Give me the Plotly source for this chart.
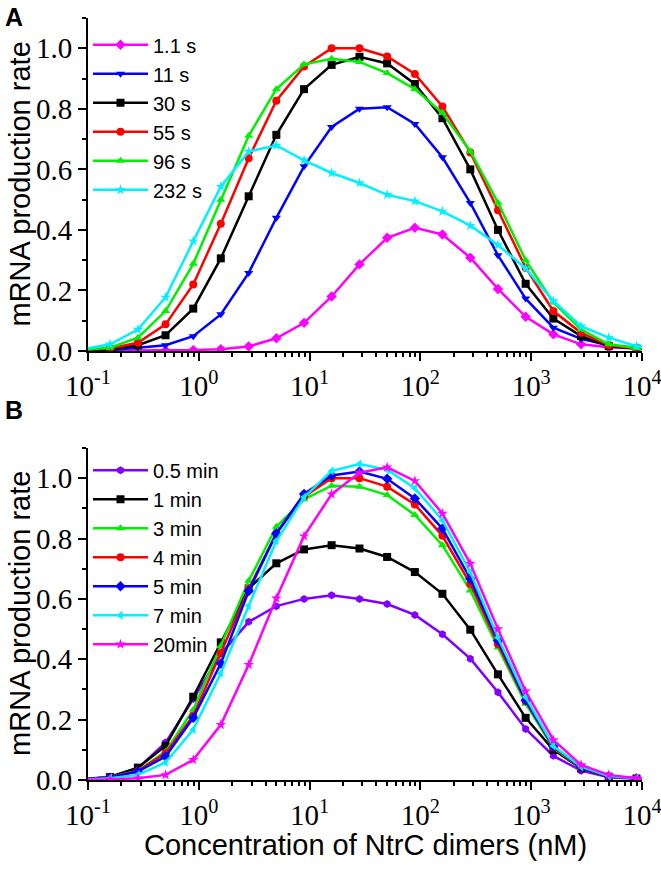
import plotly.graph_objects as go

# ---------------- data ----------------
conc = [0.089, 0.158, 0.282, 0.501, 0.891, 1.58, 2.82, 5.01, 8.91, 15.8, 28.2,
        50.1, 89.1, 158, 282, 501, 891, 1585, 2818, 5012, 8913, 15849]

# Panel A
labels_A = ["1.1 s", "11 s", "30 s", "55 s", "96 s", "232 s"]
rate_A_1p1s = [0.001, 0.001, 0.001, 0.002, 0.003, 0.006, 0.015, 0.042, 0.093, 0.180, 0.286,
               0.374, 0.407, 0.385, 0.308, 0.205, 0.113, 0.055, 0.022, 0.012, 0.008, 0.004]
rate_A_11s = [0.001, 0.003, 0.011, 0.019, 0.049, 0.121, 0.258, 0.440, 0.610, 0.740, 0.800,
              0.805, 0.750, 0.640, 0.489, 0.316, 0.173, 0.077, 0.040, 0.019, 0.011, 0.006]
rate_A_30s = [0.002, 0.005, 0.019, 0.052, 0.140, 0.306, 0.511, 0.714, 0.865, 0.945, 0.972,
              0.950, 0.882, 0.769, 0.600, 0.400, 0.222, 0.107, 0.049, 0.016, 0.008, 0.004]
rate_A_55s = [0.003, 0.008, 0.027, 0.088, 0.220, 0.420, 0.637, 0.827, 0.940, 1.000, 1.000,
              0.973, 0.915, 0.808, 0.656, 0.465, 0.275, 0.132, 0.060, 0.019, 0.009, 0.004]
rate_A_96s = [0.004, 0.011, 0.044, 0.132, 0.288, 0.500, 0.711, 0.865, 0.947, 0.965, 0.955,
              0.918, 0.865, 0.786, 0.660, 0.490, 0.300, 0.160, 0.071, 0.022, 0.010, 0.005]
rate_A_232s = [0.006, 0.022, 0.071, 0.177, 0.363, 0.543, 0.659, 0.679, 0.630, 0.588, 0.555,
               0.516, 0.495, 0.461, 0.414, 0.350, 0.273, 0.165, 0.082, 0.044, 0.016, 0.008]

# Panel B
labels_B = ["0.5 min", "1 min", "3 min", "4 min", "5 min", "7 min", "20min"]
rate_B_0p5min = [0.002, 0.011, 0.039, 0.124, 0.268, 0.418, 0.524, 0.576, 0.600, 0.612, 0.600,
                 0.583, 0.547, 0.483, 0.402, 0.291, 0.169, 0.080, 0.031, 0.009, 0.004, 0.002]
rate_B_1min = [0.002, 0.010, 0.041, 0.113, 0.276, 0.456, 0.635, 0.718, 0.764, 0.778, 0.767,
               0.739, 0.689, 0.617, 0.498, 0.350, 0.206, 0.100, 0.039, 0.011, 0.005, 0.002]
rate_B_3min = [0.002, 0.009, 0.031, 0.094, 0.233, 0.444, 0.660, 0.839, 0.930, 0.975, 0.972,
               0.944, 0.878, 0.778, 0.628, 0.439, 0.253, 0.106, 0.041, 0.012, 0.005, 0.002]
rate_B_4min = [0.002, 0.009, 0.030, 0.089, 0.213, 0.420, 0.633, 0.817, 0.939, 1.000, 1.000,
               0.972, 0.913, 0.809, 0.650, 0.450, 0.262, 0.108, 0.041, 0.012, 0.005, 0.002]
rate_B_5min = [0.002, 0.008, 0.028, 0.078, 0.206, 0.386, 0.626, 0.817, 0.948, 1.009, 1.022,
               0.998, 0.933, 0.833, 0.667, 0.461, 0.264, 0.111, 0.042, 0.012, 0.005, 0.002]
rate_B_7min = [0.001, 0.006, 0.017, 0.058, 0.167, 0.354, 0.577, 0.792, 0.937, 1.024, 1.047,
               1.028, 0.967, 0.861, 0.689, 0.472, 0.275, 0.113, 0.044, 0.013, 0.006, 0.002]
rate_B_20min = [0.0005, 0.002, 0.006, 0.017, 0.067, 0.183, 0.382, 0.602, 0.808, 0.947, 1.018,
                1.036, 0.991, 0.883, 0.717, 0.500, 0.294, 0.133, 0.050, 0.017, 0.006, 0.002]

x_tickvals = [0.1, 1, 10, 100, 1000, 10000]
x_ticktext = ["10<sup>-1</sup>", "10<sup>0</sup>", "10<sup>1</sup>", "10<sup>2</sup>",
              "10<sup>3</sup>", "10<sup>4</sup>"]
y_title = "mRNA production rate"
x_title = "Concentration of NtrC dimers (nM)"

# ---------------- styles ----------------
series_A = [
    (labels_A[0], rate_A_1p1s, "#FF00FF", "diamond"),
    (labels_A[1], rate_A_11s, "#0000FF", "triangle-down"),
    (labels_A[2], rate_A_30s, "#000000", "square"),
    (labels_A[3], rate_A_55s, "#FF0000", "circle"),
    (labels_A[4], rate_A_96s, "#00F000", "triangle-up"),
    (labels_A[5], rate_A_232s, "#00F0FF", "star"),
]
series_B = [
    (labels_B[0], rate_B_0p5min, "#8000FF", "hexagon"),
    (labels_B[1], rate_B_1min, "#000000", "square"),
    (labels_B[2], rate_B_3min, "#00F000", "triangle-up"),
    (labels_B[3], rate_B_4min, "#FF0000", "circle"),
    (labels_B[4], rate_B_5min, "#0000FF", "diamond"),
    (labels_B[5], rate_B_7min, "#00F0FF", "triangle-left"),
    (labels_B[6], rate_B_20min, "#FF00FF", "star"),
]

fig = go.Figure()
for name, vals, col, sym in series_A:
    fig.add_trace(go.Scatter(x=conc, y=vals, name=name, mode="lines+markers",
                             line=dict(color=col, width=2.5),
                             marker=dict(symbol=sym, size=8, color=col),
                             xaxis="x", yaxis="y", legend="legend"))
for name, vals, col, sym in series_B:
    fig.add_trace(go.Scatter(x=conc, y=vals, name=name, mode="lines+markers",
                             line=dict(color=col, width=2.5),
                             marker=dict(symbol=sym, size=8, color=col),
                             xaxis="x2", yaxis="y2", legend="legend2"))

minor_x = [k * 10 ** n for n in range(-1, 4) for k in range(2, 10)]
tickfont = dict(family="Liberation Serif", size=29, color="black")

def xax(anchor, top=False, overlay=None):
    d = dict(type="log", range=[-1, 4], showgrid=False, zeroline=False, automargin=False,
             showline=True, linewidth=2, linecolor="black",
             tickvals=x_tickvals, ticktext=x_ticktext, ticklabeloverflow="allow",
             ticks="inside" if top else "outside", ticklen=8, tickwidth=2, tickcolor="black",
             minor=dict(tickvals=minor_x, ticklen=4, tickwidth=2, tickcolor="black",
                        ticks="inside" if top else "outside"),
             tickfont=tickfont, anchor=anchor, showticklabels=not top)
    if top:
        d.update(side="top", overlaying=overlay)
    return d

def yax(anchor, domain=None, right=False, overlay=None):
    d = dict(range=[0, 1.1], showgrid=False, zeroline=False, automargin=False,
             showline=True, linewidth=2, linecolor="black",
             tick0=0, dtick=0.2, tickformat=".1f",
             ticks="inside" if right else "outside", ticklen=8, tickwidth=2, tickcolor="black",
             minor=dict(dtick=0.1, tick0=0, ticklen=4, tickwidth=2, tickcolor="black",
                        ticks="inside" if right else "outside"),
             tickfont=tickfont, anchor=anchor, showticklabels=not right)
    if right:
        d.update(side="right", overlaying=overlay)
    else:
        d.update(domain=domain)
    return d

legfont = dict(family="Liberation Sans", size=20, color="black")
afont = dict(family="Liberation Sans", size=29, color="black")
fig.update_layout(
    width=661, height=869,
    margin=dict(l=88, r=19, t=18, b=89),
    plot_bgcolor="white", paper_bgcolor="white",
    xaxis=dict(domain=[0, 1], **xax("y")),
    yaxis=yax("x", domain=[0.563, 1]),
    xaxis3=xax("y", top=True, overlay="x"),
    yaxis3=yax("x", right=True, overlay="y"),
    xaxis2=dict(domain=[0, 1], **xax("y2")),
    yaxis2=yax("x2", domain=[0, 0.4357]),
    xaxis4=xax("y2", top=True, overlay="x2"),
    yaxis4=yax("x2", right=True, overlay="y2"),
    legend=dict(x=0.0, y=0.9905, xanchor="left", yanchor="top", font=legfont,
                bgcolor="rgba(0,0,0,0)", itemwidth=55, tracegroupgap=0),
    legend2=dict(x=0.0, y=0.432, xanchor="left", yanchor="top", font=legfont,
                 bgcolor="rgba(0,0,0,0)", itemwidth=55, tracegroupgap=0),
    annotations=[
        dict(text="<b>A</b>", x=-0.134, y=1.001, xref="paper", yref="paper",
             xanchor="center", yanchor="middle", showarrow=False,
             font=dict(family="Liberation Sans", size=25, color="black")),
        dict(text="<b>B</b>", x=-0.134, y=0.4856, xref="paper", yref="paper",
             xanchor="center", yanchor="middle", showarrow=False,
             font=dict(family="Liberation Sans", size=25, color="black")),
        dict(text=y_title, x=-0.1227, y=0.7815, xref="paper", yref="paper", textangle=-90,
             xanchor="center", yanchor="middle", showarrow=False, font=afont),
        dict(text=y_title, x=-0.1227, y=0.218, xref="paper", yref="paper", textangle=-90,
             xanchor="center", yanchor="middle", showarrow=False, font=afont),
        dict(text=x_title, x=0.5, y=-0.0853, xref="paper", yref="paper",
             xanchor="center", yanchor="middle", showarrow=False, font=afont),
    ],
)

fig.write_html("out.html", config={"displayModeBar": False},
               post_script="document.body.style.margin='0';document.body.style.overflow='hidden';")
